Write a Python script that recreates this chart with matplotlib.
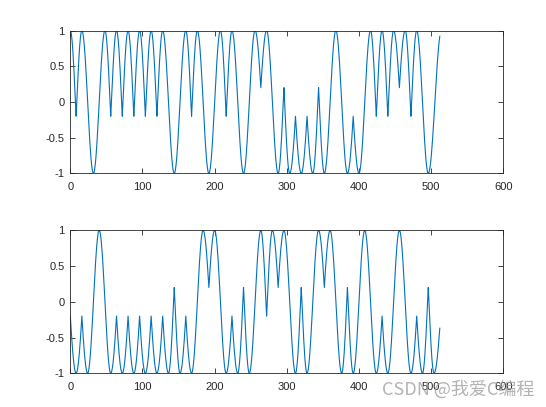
import numpy as np
import matplotlib
matplotlib.use("Agg")
import matplotlib.pyplot as plt

# Turning points (sample index, value)
top_x = [0, 8, 16, 32, 48, 56, 64, 72, 80, 88, 96, 104, 112, 120, 128, 144, 160, 168, 176, 192,
         208, 216, 224, 240, 256, 264, 272, 288, 296, 304, 312, 320, 328, 336, 344, 352, 368, 384,
         392, 400, 416, 424, 432, 440, 448, 456, 464, 472, 480, 496, 512]
top_y = [1, -0.2, 1, -1, 1, -0.2, 1, -0.2, 1, -0.2, 1, -0.2, 1, -0.2, 1, -1, 1, -0.2, 1, -1,
         1, -0.2, 1, -1, 1, 0.2, 1, -1, 0.2, -1, -0.2, -1, -0.2, -1, 0.2, -1, 1, -1,
         -0.2, -1, 1, -0.2, 1, -0.2, 1, 0.2, 1, -0.2, 1, -1, 0.92]

bot_x = [0, 8, 16, 24, 40, 56, 64, 72, 80, 88, 96, 104, 112, 120, 128, 136, 144, 152, 160, 168,
         184, 192, 200, 216, 224, 232, 240, 248, 264, 272, 280, 288, 296, 312, 320, 328, 344, 352,
         360, 376, 384, 392, 408, 424, 432, 440, 456, 472, 480, 488, 496, 504, 512]
bot_y = [-0.2, -1, -0.2, -1, 1, -1, -0.2, -1, -0.2, -1, -0.2, -1, -0.2, -1, -0.2, -1, 0.2, -1, -0.2, -1,
         1, 0.2, 1, -1, -0.2, -1, 0.2, -1, 1, -0.2, 1, 0.2, 1, -1, 0.2, -1, 1, 0.2,
         1, -1, 0.2, -1, 1, -1, -0.2, -1, 1, -1, -0.2, -1, 0.2, -1, -0.37]

xticks = [0, 100, 200, 300, 400, 500, 600]
yticks = [-1, -0.5, 0, 0.5, 1]
yticklabels = ["-1", "-0.5", "0", "0.5", "1"]


def trace(xs, ys):
    """Sample the curve between turning points as cos of a piecewise-linear phase."""
    xs = np.asarray(xs, float)
    ph = np.arccos(np.clip(np.asarray(ys, float), -1, 1))
    t = np.arange(xs[0], xs[-1] + 0.001, 0.5)
    return t, np.cos(np.interp(t, xs, ph))


plt.rcParams['font.family'] = ['Liberation Sans', 'DejaVu Sans']
fig = plt.figure(figsize=(5.46, 4.07), dpi=100)
fig.patch.set_facecolor('white')

axc = '#262626'
positions = [[0.1288, 0.574, 0.793, 0.351], [0.1288, 0.083, 0.793, 0.351]]
for pos, (xs, ys) in zip(positions, [(top_x, top_y), (bot_x, bot_y)]):
    ax = fig.add_axes(pos)
    t, s = trace(xs, ys)
    ax.plot(t, s, color='#0072BD', linewidth=0.8)
    ax.set_xlim(0, 600)
    ax.set_ylim(-1, 1)
    ax.set_xticks(xticks)
    ax.set_yticks(yticks)
    ax.set_yticklabels(yticklabels)
    ax.tick_params(direction='in', length=3.5, width=0.6, colors=axc, labelsize=8,
                   top=True, right=True)
    ax.tick_params(axis='x', pad=6)
    ax.tick_params(axis='y', pad=4)
    for sp in ax.spines.values():
        sp.set_linewidth(0.6)
        sp.set_color(axc)

fig.text(0.699, 0.042, "CSDN @我爱C编程", fontsize=13, color='#9a9a9a', alpha=0.75,
         family=['Noto Sans CJK SC', 'DejaVu Sans'], va='center')

fig.savefig("out.png", dpi=100)
